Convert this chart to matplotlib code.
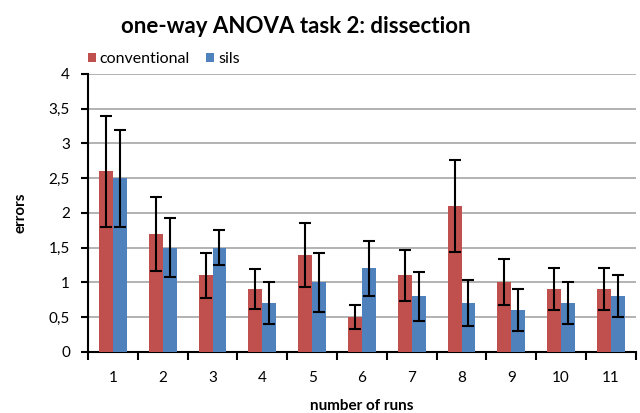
import numpy as np
import matplotlib
matplotlib.use("Agg")
import matplotlib.pyplot as plt
from matplotlib.ticker import FuncFormatter

runs = ["1", "2", "3", "4", "5", "6", "7", "8", "9", "10", "11"]
conventional = [2.6, 1.7, 1.1, 0.9, 1.4, 0.5, 1.1, 2.1, 1.0, 0.9, 0.9]
conventional_err = [0.8, 0.53, 0.33, 0.29, 0.46, 0.17, 0.37, 0.66, 0.33, 0.3, 0.3]
sils = [2.5, 1.5, 1.5, 0.7, 1.0, 1.2, 0.8, 0.7, 0.6, 0.7, 0.8]
sils_err = [0.7, 0.42, 0.25, 0.3, 0.42, 0.4, 0.35, 0.33, 0.3, 0.3, 0.3]

plt.rcParams['font.family'] = ['Lato', 'DejaVu Sans']

fig = plt.figure(figsize=(6.4, 4.13), dpi=100)
ax = fig.add_axes([0.1375, 0.148, 0.856, 0.673])

x = np.arange(len(runs))
w = 0.28
err_kw = dict(ecolor='black', elinewidth=1.5, capsize=4, capthick=1.5)
ax.bar(x - w / 2, conventional, w, yerr=conventional_err, color='#C0504D',
       label='conventional', error_kw=err_kw, zorder=3)
ax.bar(x + w / 2, sils, w, yerr=sils_err, color='#4F81BD',
       label='sils', error_kw=err_kw, zorder=3)

ax.set_xlim(-0.5, len(runs) - 0.5)
ax.set_ylim(0, 4)
ax.set_yticks(np.arange(0, 4.01, 0.5))
ax.yaxis.set_major_formatter(FuncFormatter(lambda v, p: ('%g' % v).replace('.', ',')))
ax.set_xticks(x)
ax.set_xticklabels(runs)
ax.set_xticks(np.arange(-0.5, len(runs), 1), minor=True)
ax.tick_params(axis='x', which='major', length=0, pad=14, labelsize=11)
ax.tick_params(axis='x', which='minor', length=6, width=1.5, direction='out')
ax.tick_params(axis='y', length=5, width=1.5, direction='out', labelsize=11, pad=8)

ax.grid(axis='y', color='#a6a6a6', linewidth=1.2, zorder=0)
ax.set_axisbelow(True)
for s in ['top', 'right']:
    ax.spines[s].set_visible(False)
for s in ['left', 'bottom']:
    ax.spines[s].set_linewidth(1.5)

ax.set_xlabel('number of runs', fontweight='bold', fontsize=11)
ax.set_ylabel('errors', fontweight='bold', fontsize=11)
ax.xaxis.set_label_coords(0.5, -0.168)
ax.yaxis.set_label_coords(-0.11, 0.5)
fig.text(0.4625, 0.935, 'one-way ANOVA task 2: dissection', ha='center', va='center',
         fontsize=16, fontweight='bold')

ax.legend(loc='lower left', bbox_to_anchor=(-0.015, 1.0), ncol=2, frameon=False,
          fontsize=11.5, handlelength=0.5, handleheight=0.5, handletextpad=0.25,
          columnspacing=1.0, borderaxespad=0.1)

fig.savefig('out.png', dpi=100)
